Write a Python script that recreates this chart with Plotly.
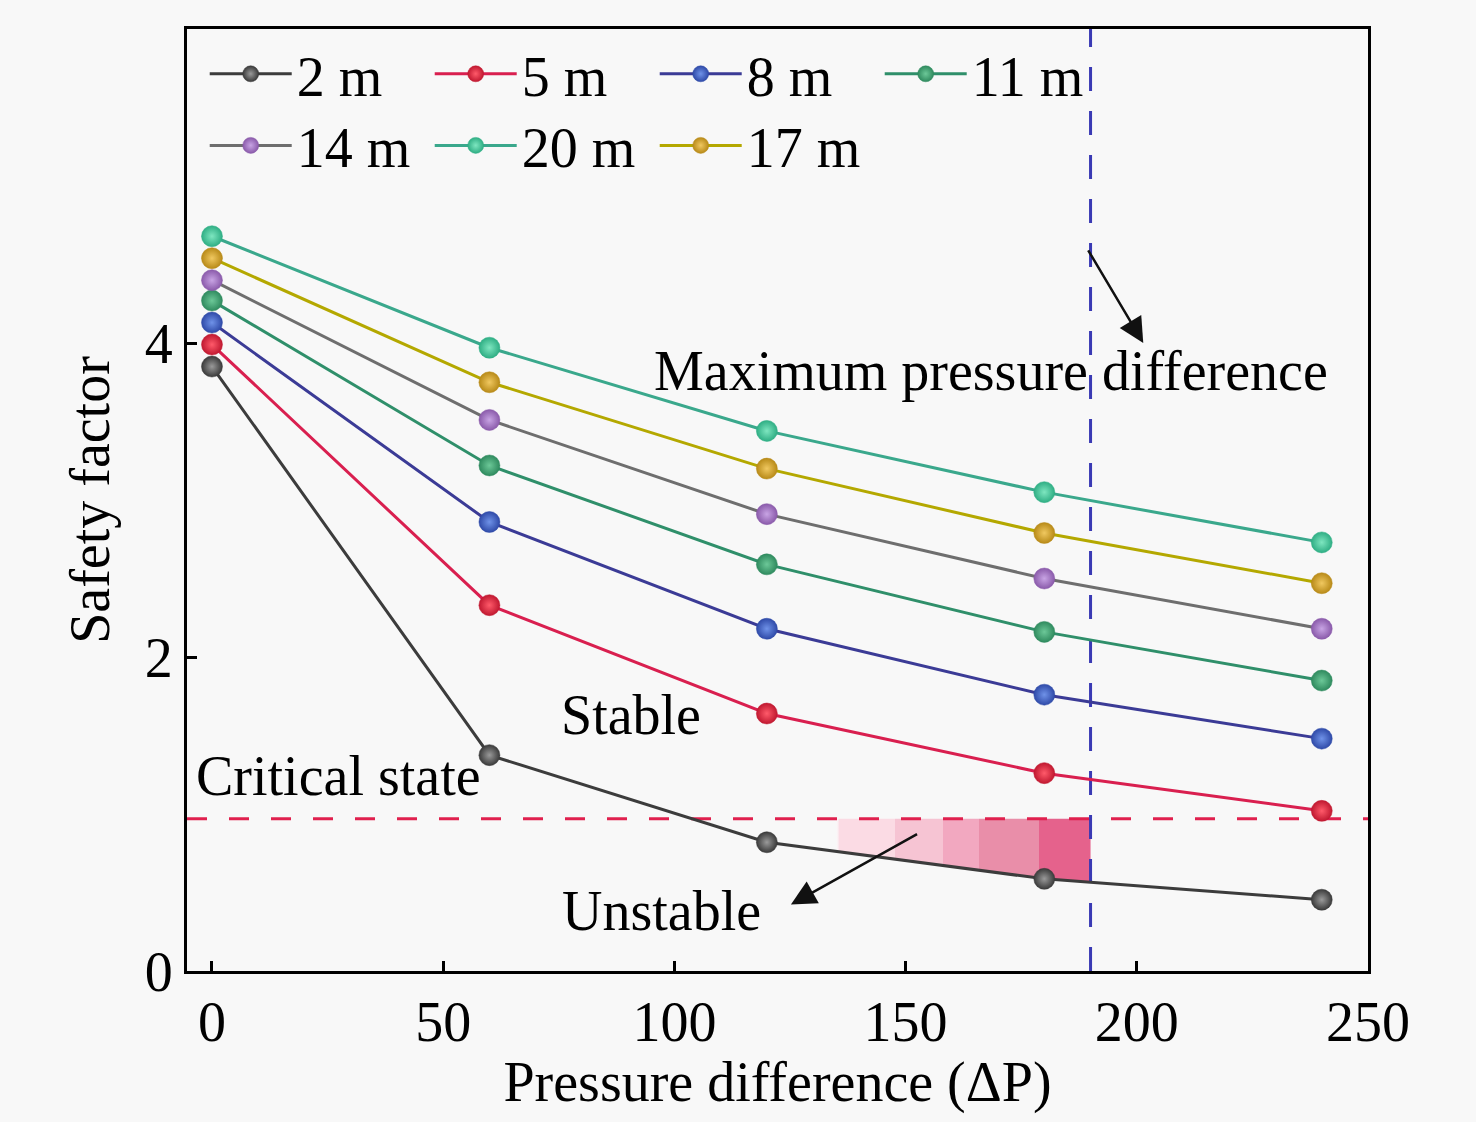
import numpy as np
import plotly.graph_objects as go

# ---- data ----
pressure = [0, 60, 120, 180, 240]

sf_2m = [3.85, 1.375, 0.82, 0.587, 0.454]
sf_5m = [3.99, 2.33, 1.64, 1.26, 1.02]
sf_8m = [4.13, 2.86, 2.18, 1.76, 1.48]
sf_11m = [4.27, 3.22, 2.59, 2.16, 1.85]
sf_14m = [4.40, 3.51, 2.91, 2.50, 2.18]
sf_17m = [4.54, 3.75, 3.20, 2.79, 2.47]
sf_20m = [4.68, 3.97, 3.44, 3.05, 2.73]

critical_sf = 0.97
max_dp = 190

FONT = "Liberation Serif, Times New Roman, serif"
BG = "#f8f8f8"

# name, values, line colour, marker edge colour, marker highlight, legend
series = [
    ("2 m", sf_2m, "#3c3c3c", "#3a3a3a", "#9a9a9a", "legend"),
    ("5 m", sf_5m, "#d91f4f", "#c01830", "#ff5a6a", "legend"),
    ("8 m", sf_8m, "#3b3b96", "#2f4aa8", "#6f92e8", "legend"),
    ("11 m", sf_11m, "#2f8f6a", "#2f8a5e", "#6cc898", "legend"),
    ("14 m", sf_14m, "#6e6e6e", "#8a5aaa", "#c8a4e4", "legend2"),
    ("20 m", sf_20m, "#3aa88c", "#2fae84", "#7ee6c0", "legend2"),
    ("17 m", sf_17m, "#b4a800", "#b88a18", "#f0c860", "legend2"),
]

fig = go.Figure()

# shaded "unstable" zone between the 2 m curve and the critical line, up to max dp
x_cross = float(np.interp(-critical_sf, -np.array(sf_2m), pressure))
xs = [x_cross] + [p for p in pressure if x_cross < p < max_dp] + [max_dp]
ys = list(np.interp(xs, pressure, sf_2m))
fig.add_trace(go.Scatter(
    x=xs + [max_dp, x_cross], y=ys + [critical_sf, critical_sf],
    fill="toself", mode="none", showlegend=False, hoverinfo="skip",
    fillgradient=dict(type="horizontal", colorscale=[
        [0.0, "rgba(255,255,255,0)"], [0.36, "rgba(255,255,255,0)"],
        [0.37, "#fbdbe4"], [0.51, "#fbdbe4"],
        [0.51, "#f6c4d3"], [0.63, "#f6c4d3"],
        [0.63, "#f2a8c0"], [0.72, "#f2a8c0"],
        [0.72, "#e98ea9"], [0.87, "#e98ea9"],
        [0.87, "#e5628c"], [1.0, "#e5628c"],
    ]),
))

# reference lines
fig.add_trace(go.Scatter(x=[-5.4, 250], y=[critical_sf, critical_sf], mode="lines",
                         line=dict(color="#e0204e", width=3, dash="20px,22px"),
                         showlegend=False, hoverinfo="skip"))
fig.add_trace(go.Scatter(x=[max_dp, max_dp], y=[0, 6], mode="lines",
                         line=dict(color="#3a3ab4", width=3, dash="24px,20px"),
                         showlegend=False, hoverinfo="skip"))

for name, vals, lc, mc, hc, leg in series:
    fig.add_trace(go.Scatter(
        x=pressure, y=vals, name=name, mode="lines+markers", legend=leg,
        line=dict(color=lc, width=3),
        marker=dict(size=21, color=mc,
                    gradient=dict(type="radial", color=hc),
                    line=dict(color=mc, width=0.5)),
    ))

def note(text, x, y):
    fig.add_annotation(x=x, y=y, text=text, showarrow=False,
                       font=dict(family=FONT, size=56, color="black"))

note("Maximum pressure difference", 168.4, 3.82)
note("Stable", 90.7, 1.63)
note("Critical state", 27.4, 1.24)
note("Unstable", 97.2, 0.38)

def arrow(x0, y0, x1, y1):
    fig.add_annotation(x=x1, y=y1, ax=x0, ay=y0, xref="x", yref="y",
                       axref="x", ayref="y", text="", showarrow=True,
                       arrowhead=2, arrowsize=2.0, arrowwidth=2.5,
                       arrowcolor="#111111")

arrow(189.3, 4.60, 201.4, 4.0)
arrow(152.8, 0.877, 125.2, 0.423)

axis_common = dict(showline=True, linecolor="black", linewidth=3, mirror=True,
                   ticks="inside", ticklen=10, tickwidth=2.5, tickcolor="black",
                   showgrid=False, zeroline=False,
                   tickfont=dict(family=FONT, size=56, color="black"))

leg_common = dict(orientation="h", xanchor="left", yanchor="top",
                  bgcolor="rgba(0,0,0,0)", entrywidth=128, entrywidthmode="pixels",
                  itemwidth=82,
                  font=dict(family=FONT, size=56, color="black"), tracegroupgap=0)

# the page adds an 8 px body margin, so the figure is drawn 16 px smaller
fig.update_layout(
    width=1460, height=1106,
    paper_bgcolor=BG, plot_bgcolor=BG,
    margin=dict(l=179, r=100, t=21, b=133),
    xaxis=dict(range=[-5.4, 250], tickvals=[0, 50, 100, 150, 200, 250],
               title=dict(text="Pressure difference (ΔP)", standoff=10,
                          font=dict(family=FONT, size=56, color="black")),
               **axis_common),
    yaxis=dict(range=[0, 6], tickvals=[0, 2, 4, 6],
               title=dict(text="Safety factor", standoff=18,
                          font=dict(family=FONT, size=56, color="black")),
               **axis_common),
    legend=dict(x=0.015, y=0.998, **leg_common),
    legend2=dict(x=0.015, y=0.922, **leg_common),
)

fig.write_html("out.html", post_script="document.body.style.background='#f8f8f8';")
